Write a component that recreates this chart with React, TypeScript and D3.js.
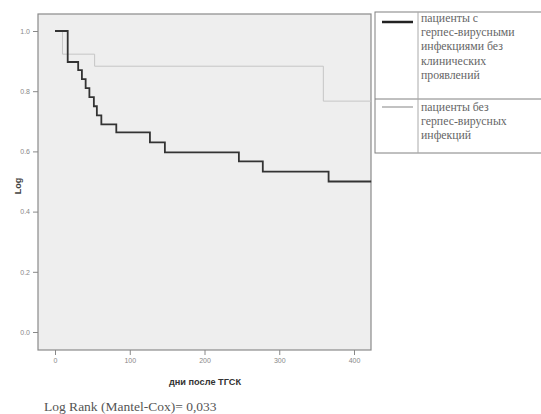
import React, { useEffect, useRef } from 'react';
import * as d3 from 'd3';

// kaplan-meier: herpes infection groups after HSCT

// black series - patients with herpes infections, no clinical signs
const herpesTimes = [0, 17, 31, 36, 41, 46, 52, 56, 62, 82, 127, 147, 246, 278, 366, 423];
const herpesSurv = [1.0, 0.897, 0.87, 0.84, 0.81, 0.78, 0.75, 0.72, 0.69, 0.663, 0.63, 0.597, 0.567, 0.533, 0.5, 0.5];

// gray series - patients without herpes infections
const noHerpesTimes = [0, 10, 53, 359, 423];
const noHerpesSurv = [1.0, 0.923, 0.883, 0.767, 0.767];

const xTicks = [0, 100, 200, 300, 400];
const yTicks = [0, 0.2, 0.4, 0.6, 0.8, 1.0];

const legendA = ['пациенты с', 'герпес-вирусными', 'инфекциями без', 'клинических', 'проявлений'];
const legendB = ['пациенты без', 'герпес-вирусных', 'инфекций'];

const App = () => {
  const ref = useRef<SVGSVGElement>(null);

  useEffect(() => {
    document.body.style.margin = '0';
    const width = 541;
    const height = 414;
    const svg = d3.select(ref.current).attr('width', width).attr('height', height);
    svg.selectAll('*').remove();

    const x = d3.scaleLinear().domain([0, 400]).range([55, 354]);
    const y = d3.scaleLinear().domain([0, 1]).range([332, 31]);

    const left = 38, top = 14, right = 371, bottom = 350;

    svg.append('rect').attr('width', width).attr('height', height).attr('fill', '#ffffff');
    svg.append('rect')
      .attr('x', left).attr('y', top)
      .attr('width', right - left).attr('height', bottom - top)
      .attr('fill', '#eeeeee')
      .attr('stroke', '#8a8a8a')
      .attr('stroke-width', 1.2);

    // axes
    const yAxis = d3.axisLeft(y).tickValues(yTicks).tickSize(5).tickFormat(d3.format('.1f'));
    const gy = svg.append('g').attr('transform', `translate(${left},0)`).call(yAxis);
    const xAxis = d3.axisBottom(x).tickValues(xTicks).tickSize(5).tickFormat(d3.format('d'));
    const gx = svg.append('g').attr('transform', `translate(0,${bottom})`).call(xAxis);
    [gy, gx].forEach((g) => {
      g.select('.domain').remove();
      g.selectAll('line').attr('stroke', '#888');
      g.selectAll('text')
        .attr('fill', '#888')
        .style('font-family', 'Arial, "Liberation Sans", sans-serif')
        .style('font-size', '7px');
    });

    const step = d3.line<[number, number]>()
      .x((d) => x(d[0]))
      .y((d) => y(d[1]))
      .curve(d3.curveStepAfter);

    svg.append('path')
      .datum(noHerpesTimes.map((t, i) => [t, noHerpesSurv[i]] as [number, number]))
      .attr('d', step)
      .attr('fill', 'none')
      .attr('stroke', '#c6c6c6')
      .attr('stroke-width', 1);

    svg.append('path')
      .datum(herpesTimes.map((t, i) => [t, herpesSurv[i]] as [number, number]))
      .attr('d', step)
      .attr('fill', 'none')
      .attr('stroke', '#333')
      .attr('stroke-width', 1.8);

    // axis titles
    svg.append('text')
      .attr('transform', 'translate(21,186) rotate(-90)')
      .attr('text-anchor', 'middle')
      .attr('fill', '#444')
      .style('font-family', 'Arial, "Liberation Sans", sans-serif')
      .style('font-weight', 'bold')
      .style('font-size', '9px')
      .text('Log');
    svg.append('text')
      .attr('x', 205).attr('y', 385)
      .attr('text-anchor', 'middle')
      .attr('fill', '#333')
      .style('font-family', 'Arial, "Liberation Sans", sans-serif')
      .style('font-weight', 'bold')
      .style('font-size', '9.2px')
      .text('дни после ТГСК');

    svg.append('text')
      .attr('x', 44).attr('y', 411)
      .attr('fill', '#555')
      .style('font-family', '"Liberation Serif", "Times New Roman", serif')
      .style('font-size', '13.5px')
      .text('Log Rank (Mantel-Cox)= 0,033');

    // legend box
    const lg = svg.append('g');
    const lx = 375, ly = 12, lw = 170, divY = 99, lb = 153, colX = 418;
    lg.append('rect').attr('x', lx).attr('y', ly).attr('width', lw).attr('height', lb - ly)
      .attr('fill', '#fff').attr('stroke', '#808080');
    lg.append('line').attr('x1', lx).attr('x2', lx + lw).attr('y1', divY).attr('y2', divY)
      .attr('stroke', '#808080');
    lg.append('line').attr('x1', colX).attr('x2', colX).attr('y1', ly).attr('y2', lb)
      .attr('stroke', '#aaa');
    lg.append('line').attr('x1', 382).attr('x2', 413).attr('y1', 22).attr('y2', 22)
      .attr('stroke', '#222').attr('stroke-width', 2.5);
    lg.append('line').attr('x1', 382).attr('x2', 413).attr('y1', 107).attr('y2', 107)
      .attr('stroke', '#999').attr('stroke-width', 1.2);

    const textStyle = (sel: any) => sel
      .attr('fill', '#666')
      .style('font-family', '"Liberation Serif", "Times New Roman", serif')
      .style('font-size', '11.8px');
    legendA.forEach((t, i) => {
      lg.append('text').attr('x', 421).attr('y', 22 + i * 14.2).text(t).call(textStyle);
    });
    legendB.forEach((t, i) => {
      lg.append('text').attr('x', 421).attr('y', 111 + i * 14.2).text(t).call(textStyle);
    });
  }, []);

  return <svg ref={ref} style={{ display: 'block' }}></svg>;
};

export default App;
